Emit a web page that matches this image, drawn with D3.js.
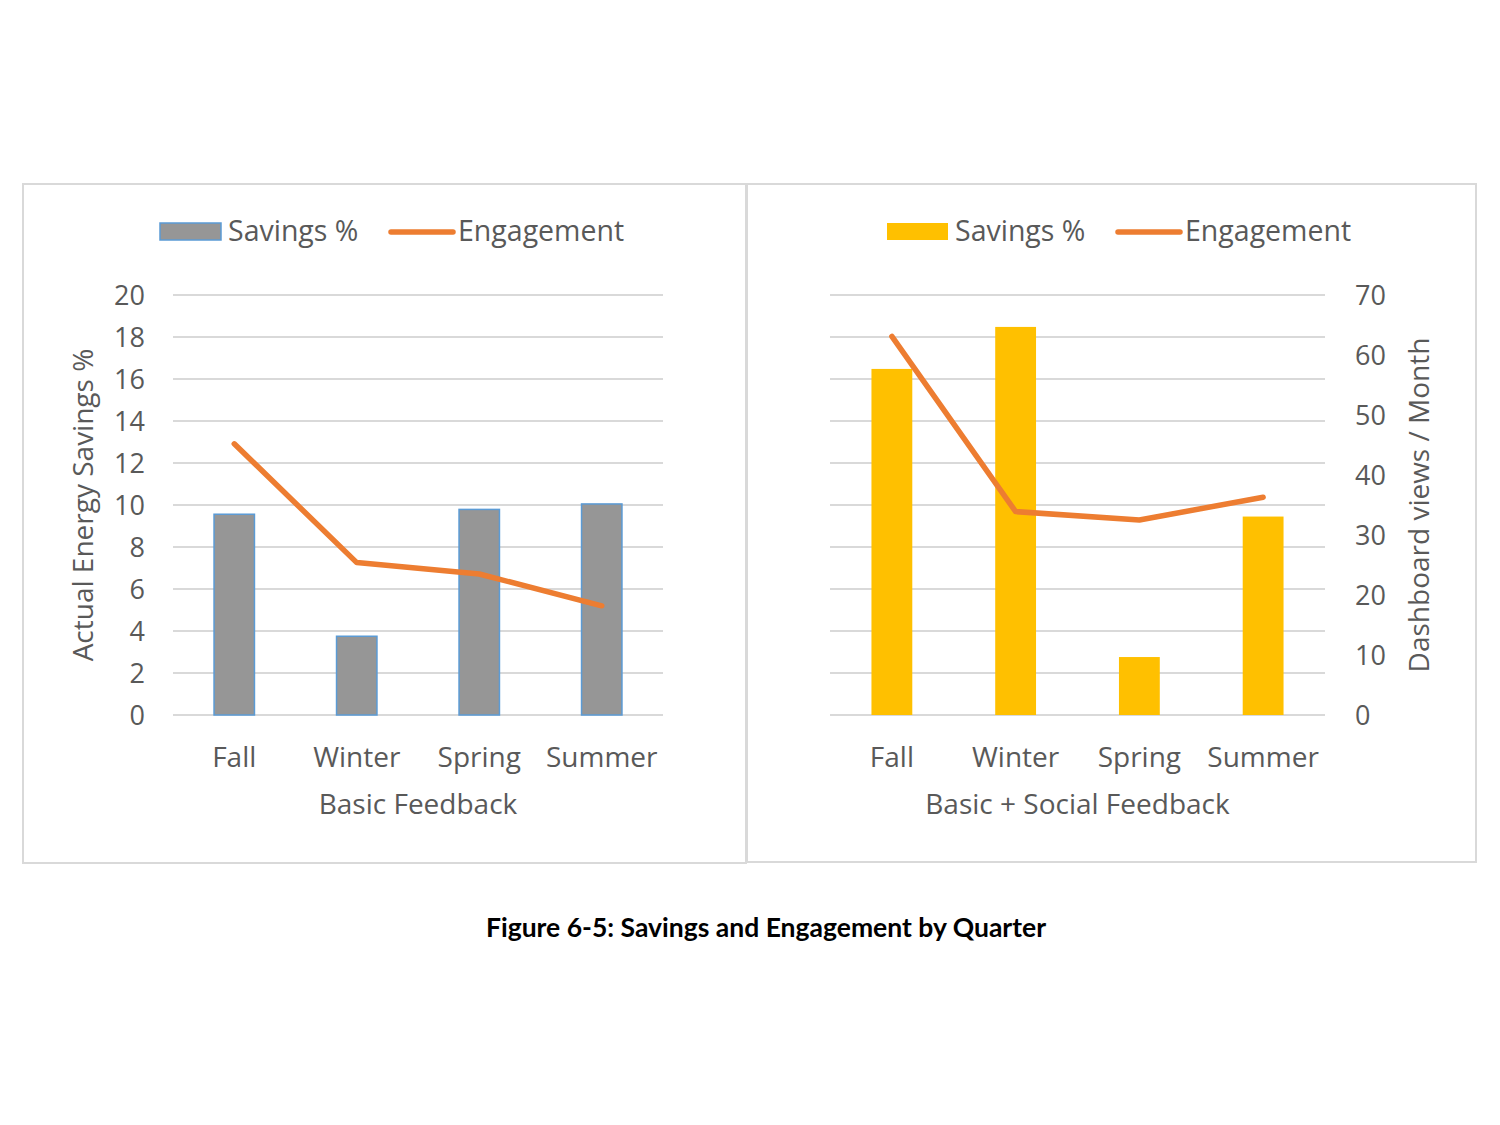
<!DOCTYPE html>
<html>
<head>
<meta charset="utf-8">
<script src="https://cdn.jsdelivr.net/npm/d3@7"></script>
<style>
  body { margin: 0; background: #fff; }
  text { font-family: "Open Sans", sans-serif; fill: #595959; }
  .title { font-family: Lato, sans-serif; font-weight: bold; fill: #000; }
</style>
</head>
<body>
<div id="chart"></div>
<script>
const quarters = ["Fall", "Winter", "Spring", "Summer"];

// Basic Feedback panel
const basicSavings = [9.56, 3.75, 9.79, 10.05];
const basicEngagement = [45.2, 25.4, 23.5, 18.2];

// Basic + Social Feedback panel
const socialSavings = [16.48, 18.48, 2.76, 9.45];
const socialEngagement = [63.1, 33.9, 32.5, 36.3];

const savingsTicks = [0, 2, 4, 6, 8, 10, 12, 14, 16, 18, 20];
const viewsTicks = [0, 10, 20, 30, 40, 50, 60, 70];

const W = 1500, H = 1125;
const orange = "#ED7D31";

const svg = d3.select("#chart")
  .append("svg")
  .attr("width", W)
  .attr("height", H)
  .attr("viewBox", [0, 0, W, H]);

function drawPanel(cfg) {
  const g = svg.append("g");

  // panel frame
  g.append("rect")
    .attr("x", cfg.box[0]).attr("y", cfg.box[1])
    .attr("width", cfg.box[2]).attr("height", cfg.box[3])
    .attr("fill", "none")
    .attr("stroke", "#D9D9D9")
    .attr("stroke-width", 2);

  const x = d3.scaleBand()
    .domain(quarters)
    .range([cfg.left, cfg.right])
    .paddingInner(0.67)
    .paddingOuter(0.335);

  const y = d3.scaleLinear().domain([0, 20]).range([715, 295]);
  const y2 = d3.scaleLinear().domain([0, 70]).range([715, 295]);

  // gridlines
  g.append("g")
    .selectAll("line")
    .data(savingsTicks)
    .join("line")
    .attr("x1", cfg.left).attr("x2", cfg.right)
    .attr("y1", d => y(d)).attr("y2", d => y(d))
    .attr("stroke", "#D9D9D9")
    .attr("stroke-width", 2);

  // bars
  g.append("g")
    .selectAll("rect")
    .data(cfg.savings)
    .join("rect")
    .attr("x", (d, i) => x(quarters[i]))
    .attr("y", d => y(d))
    .attr("width", x.bandwidth())
    .attr("height", d => y(0) - y(d))
    .attr("fill", cfg.barFill)
    .attr("stroke", cfg.barStroke)
    .attr("stroke-width", cfg.barStroke === "none" ? 0 : 1.5);

  // engagement line
  const line = d3.line()
    .x((d, i) => x(quarters[i]) + x.bandwidth() / 2)
    .y(d => y2(d));

  g.append("path")
    .datum(cfg.engagement)
    .attr("d", line)
    .attr("fill", "none")
    .attr("stroke", orange)
    .attr("stroke-width", 5.5)
    .attr("stroke-linecap", "round")
    .attr("stroke-linejoin", "round");

  // axes
  if (cfg.showLeftAxis) {
    const ax = g.append("g")
      .attr("transform", `translate(${cfg.left},0)`)
      .call(d3.axisLeft(y).tickValues(savingsTicks).tickSize(0).tickPadding(28));
    ax.select(".domain").remove();
    ax.selectAll("text").attr("font-size", 27).attr("fill", "#595959")
      .attr("font-family", "Open Sans").attr("dy", "0.36em");
  }
  if (cfg.showRightAxis) {
    const ax = g.append("g")
      .attr("transform", `translate(${cfg.right},0)`)
      .call(d3.axisRight(y2).tickValues(viewsTicks).tickSize(0).tickPadding(30));
    ax.select(".domain").remove();
    ax.selectAll("text").attr("font-size", 27).attr("fill", "#595959")
      .attr("font-family", "Open Sans").attr("dy", "0.36em");
  }

  // category labels
  g.append("g")
    .selectAll("text")
    .data(quarters)
    .join("text")
    .attr("x", d => x(d) + x.bandwidth() / 2)
    .attr("y", 767)
    .attr("text-anchor", "middle")
    .attr("font-size", 28)
    .text(d => d);

  // axis title
  g.append("text")
    .attr("x", (cfg.left + cfg.right) / 2)
    .attr("y", 814)
    .attr("text-anchor", "middle")
    .attr("font-size", 28)
    .text(cfg.xTitle);

  if (cfg.yTitle) {
    g.append("text")
      .attr("transform", `translate(${cfg.yTitleX},505) rotate(-90)`)
      .attr("text-anchor", "middle")
      .attr("font-size", 28)
      .text(cfg.yTitle);
  }

  // legend
  const lg = g.append("g").attr("transform", `translate(${cfg.legendX},0)`);
  lg.append("rect")
    .attr("x", 0).attr("y", 223)
    .attr("width", 61).attr("height", 17)
    .attr("fill", cfg.barFill)
    .attr("stroke", cfg.barStroke)
    .attr("stroke-width", cfg.barStroke === "none" ? 0 : 1.5);
  lg.append("text")
    .attr("x", 68).attr("y", 241)
    .attr("font-size", 28.5)
    .text("Savings %");
  lg.append("line")
    .attr("x1", 231).attr("x2", 293)
    .attr("y1", 232).attr("y2", 232)
    .attr("stroke", orange)
    .attr("stroke-width", 5.5)
    .attr("stroke-linecap", "round");
  lg.append("text")
    .attr("x", 298).attr("y", 241)
    .attr("font-size", 28.5)
    .text("Engagement");
}

drawPanel({
  box: [23, 184, 723, 679],
  left: 173, right: 663,
  savings: basicSavings,
  engagement: basicEngagement,
  barFill: "#969696", barStroke: "#5B9BD5",
  showLeftAxis: true, showRightAxis: false,
  xTitle: "Basic Feedback",
  yTitle: "Actual Energy Savings %", yTitleX: 93,
  legendX: 160
});

drawPanel({
  box: [747, 184, 729, 678],
  left: 830, right: 1325,
  savings: socialSavings,
  engagement: socialEngagement,
  barFill: "#FFC000", barStroke: "none",
  showLeftAxis: false, showRightAxis: true,
  xTitle: "Basic + Social Feedback",
  yTitle: "Dashboard views / Month", yTitleX: 1429,
  legendX: 887
});

svg.append("text")
  .attr("class", "title")
  .attr("x", 766)
  .attr("y", 937)
  .attr("text-anchor", "middle")
  .attr("font-size", 26.5)
  .text("Figure 6-5: Savings and Engagement by Quarter");
</script>
</body>
</html>
